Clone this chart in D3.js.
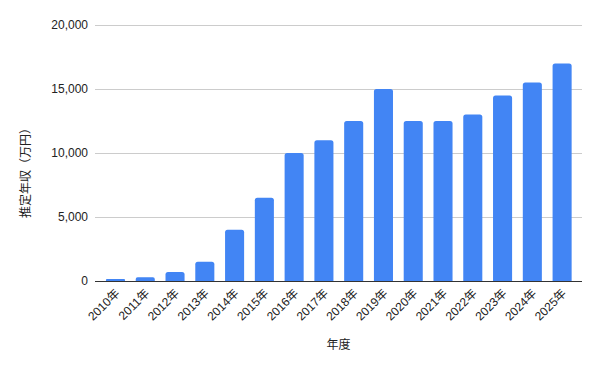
<html>
<head>
<meta charset="utf-8">
<style>
  body { margin: 0; padding: 0; background: #fff; font-family: "Liberation Sans", Arial, "Noto Sans CJK JP", sans-serif; }
  .grid line { stroke: #cccccc; stroke-width: 1; }
  .bar { fill: #4285f4; }
  text { fill: #222; font-size: 12px; }
</style>
</head>
<body>
<div id="chart"></div>
<script src="https://d3js.org/d3.v7.min.js"></script>
<script>
var years = ["2010年","2011年","2012年","2013年","2014年","2015年","2016年","2017年",
             "2018年","2019年","2020年","2021年","2022年","2023年","2024年","2025年"];
var income = [150, 300, 700, 1500, 4000, 6500, 10000, 11000,
              12500, 15000, 12500, 12500, 13000, 14500, 15500, 17000];
var yTicks = [0, 5000, 10000, 15000, 20000];

var width = 601, height = 371;
var margin = {top: 25, right: 19, bottom: 90, left: 95};

var svg = d3.select("#chart").append("svg")
    .attr("width", width)
    .attr("height", height);

var x = d3.scaleBand()
    .domain(years)
    .range([margin.left + 5.6, width - margin.right - 5])
    .paddingInner(0.36)
    .paddingOuter(0.18);

var y = d3.scaleLinear()
    .domain([0, 20000])
    .range([height - margin.bottom, margin.top]);

// gridlines
svg.append("g").attr("class", "grid")
    .selectAll("line")
    .data(yTicks.slice(1))
    .enter().append("line")
    .attr("x1", margin.left)
    .attr("x2", width - margin.right)
    .attr("y1", function (d) { return Math.round(y(d)) + 0.5; })
    .attr("y2", function (d) { return Math.round(y(d)) + 0.5; });

// y labels
svg.append("g")
    .selectAll("text")
    .data(yTicks)
    .enter().append("text")
    .attr("x", margin.left - 7)
    .attr("y", function (d) { return y(d); })
    .attr("dy", "0.35em")
    .attr("text-anchor", "end")
    .text(function (d) { return d3.format(",")(d); });

// bars with rounded top
function barPath(d, i) {
    var x0 = x(years[i]), w = x.bandwidth();
    var y0 = y(0), y1 = y(d);
    var r = Math.min(2.5, (y0 - y1) / 2);
    return "M" + x0 + "," + y0 +
        "V" + (y1 + r) +
        "Q" + x0 + "," + y1 + " " + (x0 + r) + "," + y1 +
        "H" + (x0 + w - r) +
        "Q" + (x0 + w) + "," + y1 + " " + (x0 + w) + "," + (y1 + r) +
        "V" + y0 + "Z";
}

svg.append("g")
    .selectAll("path")
    .data(income)
    .enter().append("path")
    .attr("class", "bar")
    .attr("d", barPath);

// baseline
svg.append("line")
    .attr("x1", margin.left)
    .attr("x2", width - margin.right)
    .attr("y1", Math.round(y(0)) + 0.5)
    .attr("y2", Math.round(y(0)) + 0.5)
    .attr("stroke", "#333")
    .attr("stroke-width", 1);

// x labels rotated
svg.append("g")
    .selectAll("text")
    .data(years)
    .enter().append("text")
    .attr("text-anchor", "end")
    .attr("transform", function (d) {
        var cx = x(d) + x.bandwidth() / 2 + 5;
        return "translate(" + cx + "," + (y(0) + 13) + ") rotate(-45)";
    })
    .text(function (d) { return d; });

// axis titles
svg.append("text")
    .attr("x", (margin.left + width - margin.right) / 2)
    .attr("y", 349)
    .attr("text-anchor", "middle")
    .text("年度");

svg.append("text")
    .attr("transform", "translate(30,170) rotate(-90)")
    .attr("text-anchor", "middle")
    .text("推定年収（万円）");
</script>
</body>
</html>
